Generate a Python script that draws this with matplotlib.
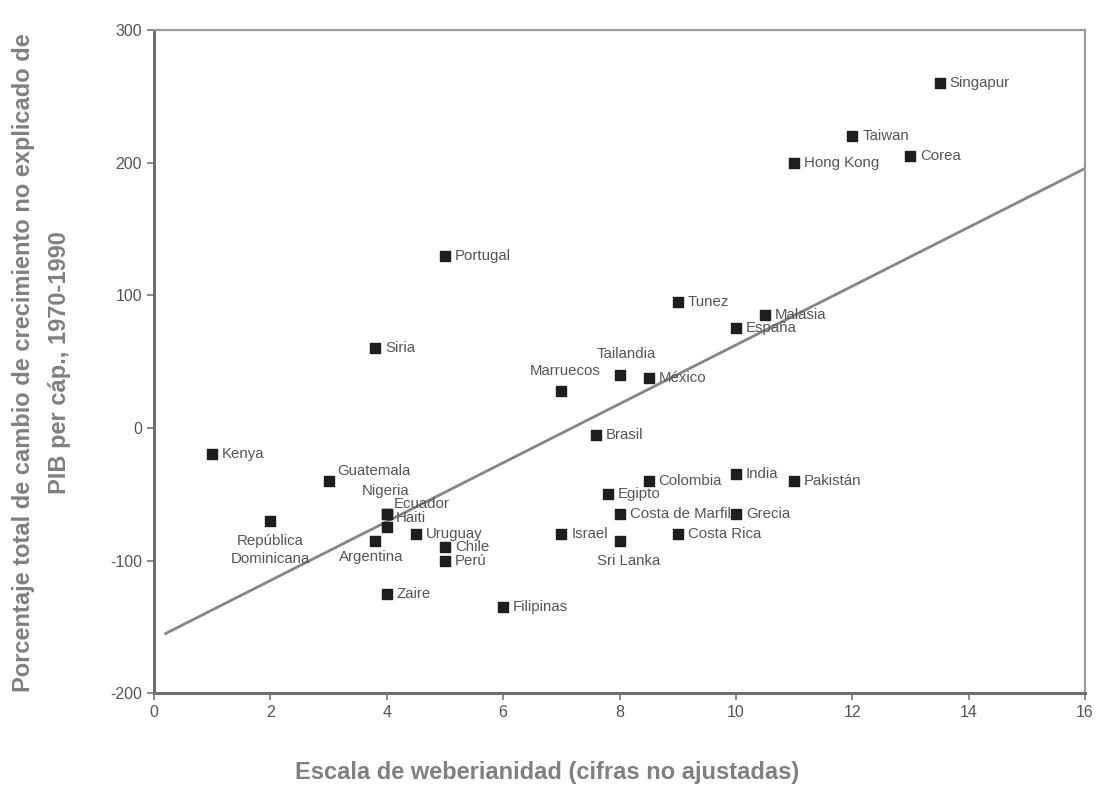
import matplotlib.pyplot as plt

plt.rcParams['font.family'] = ['Liberation Sans', 'DejaVu Sans']
plt.rcParams['axes.unicode_minus'] = False

# data
paises = ['Kenya', 'República\nDominicana', 'Guatemala', 'Nigeria', 'Ecuador', 'Haiti',
          'Argentina', 'Uruguay', 'Chile', 'Perú', 'Zaire', 'Filipinas', 'Portugal',
          'Siria', 'Marruecos', 'Tailandia', 'México', 'Brasil', 'Tunez', 'España',
          'Malasia', 'Singapur', 'Taiwan', 'Hong Kong', 'Corea', 'Colombia', 'India',
          'Pakistán', 'Egipto', 'Costa de Marfil', 'Grecia', 'Israel', 'Sri Lanka',
          'Costa Rica']
weber = [1, 2, 3, 4, 4, 4, 3.8, 4.5, 5, 5, 4, 6, 5, 3.8, 7, 8, 8.5, 7.6, 9, 10,
         10.5, 13.5, 12, 11, 13, 8.5, 10, 11, 7.8, 8, 10, 7, 8, 9]
crecimiento = [-20, -70, -40, -65, -65, -75, -85, -80, -90, -100, -125, -135, 130,
               60, 28, 40, 38, -5, 95, 75, 85, 260, 220, 200, 205, -40, -35, -40,
               -50, -65, -65, -80, -85, -80]

# regression line
pendiente = 22.2
intercepto = -159.5
linea_x = [0.2, 16]

# label offsets in pixels (dx, dy, ha)
offsets = {
    'República\nDominicana': (0, -29, 'center'),
    'Guatemala': (9, 10, 'left'),
    'Nigeria': (-1, 23, 'center'),
    'Ecuador': (7, 10, 'left'),
    'Haiti': (9, 9, 'left'),
    'Argentina': (-4, -16, 'center'),
    'Marruecos': (4, 20, 'center'),
    'Tailandia': (7, 21, 'center'),
    'Sri Lanka': (9, -20, 'center'),
}

fig = plt.figure(figsize=(10.96, 8.05), dpi=100)
ax = fig.add_axes([0.1405, 0.139, 0.8495, 0.8236])

ly = [pendiente * v + intercepto for v in linea_x]
ax.plot(linea_x, ly, color='#858585', lw=2, zorder=2)

ax.scatter(weber, crecimiento, marker='s', s=48, color='#1e1e1e', zorder=3)

for nombre, xv, yv in zip(paises, weber, crecimiento):
    dx, dy, ha = offsets.get(nombre, (10, 0, 'left'))
    ax.annotate(nombre, (xv, yv), xytext=(dx, dy), textcoords='offset pixels',
                ha=ha, va='center', fontsize=10.8, color='#555555',
                linespacing=1.4, zorder=4)

ax.set_xlim(0, 16)
ax.set_ylim(-200, 300)
ax.set_xticks(range(0, 17, 2))
ax.set_yticks(range(-200, 301, 100))
ax.tick_params(labelsize=11.5, labelcolor='#555555', color='#777777', length=5, width=1.2)

for side in ['left', 'bottom']:
    ax.spines[side].set_color('#6f6f6f')
    ax.spines[side].set_linewidth(2.2)
for side in ['top', 'right']:
    ax.spines[side].set_color('#9a9a9a')
    ax.spines[side].set_linewidth(1.6)

fig.text(0.038, 0.55,
         'Porcentaje total de cambio de crecimiento no explicado de\nPIB per cáp., 1970-1990',
         rotation=90, ha='center', va='center', fontsize=17, fontweight='bold',
         color='#808080', linespacing=1.75)
fig.text(0.499, 0.04, 'Escala de weberianidad (cifras no ajustadas)',
         ha='center', va='center', fontsize=17, fontweight='bold', color='#808080')

plt.savefig('out.png', dpi=100)
